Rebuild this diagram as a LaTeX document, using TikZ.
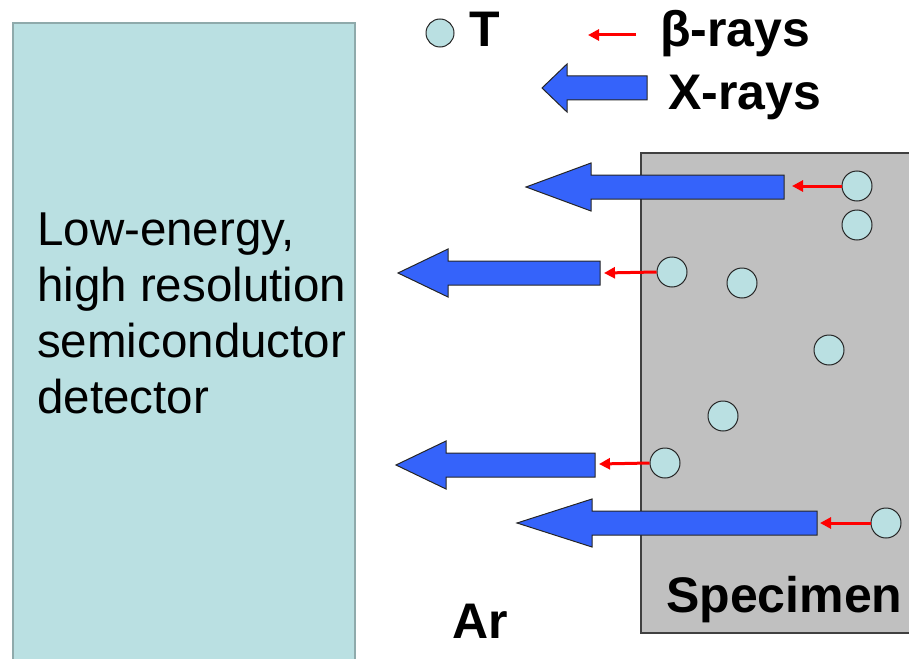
\documentclass[tikz,border=0pt]{standalone}
\usepackage{fontspec}
\setmainfont{Liberation Sans}
\usetikzlibrary{arrows.meta}
\definecolor{detfill}{HTML}{BAE0E2}
\definecolor{detline}{HTML}{8FAAAB}
\definecolor{specfill}{HTML}{C0C0C0}
\definecolor{specline}{HTML}{404040}
\definecolor{xblue}{HTML}{3563FA}
\definecolor{bred}{HTML}{FF0000}
\tikzset{
  atom/.style={circle,draw=black!85,line width=1pt,fill=detfill,minimum size=30pt,inner sep=0pt},
  beta/.style={draw=bred,line width=3pt,-{Triangle[length=11pt,width=11pt]}},
  xray/.style={draw=black!85,line width=1pt,fill=xblue,line join=miter},
  boldlabel/.style={font=\fontsize{50}{60}\selectfont\bfseries,inner sep=0pt,anchor=base west},
}
% tip x, y, head back x, body right x
\newcommand\xarr[4]{\path[xray] (#1,#2) -- (#3,#2-24) -- (#3,#2-12) -- (#4,#2-12) -- (#4,#2+12) -- (#3,#2+12) -- (#3,#2+24) -- cycle;}
\begin{document}
\begin{tikzpicture}[x=1pt,y=-1pt]
\useasboundingbox (0,0) rectangle (909,658);
\clip (0,0) rectangle (909,658);
% detector
\path[fill=detfill,draw=detline,line width=2pt] (13,23) rectangle (355,680);
\node[inner sep=0pt,anchor=base west,align=left,font=\fontsize{47.5}{56}\selectfont] (det) at (37,413)
  {Low-energy,\\high resolution\\semiconductor\\detector};
% specimen
\path[fill=specfill,draw=specline,line width=1.5pt] (641,153) rectangle (930,633);
\node[boldlabel] (spec) at (666,612) {Specimen};
\node[boldlabel] (ar) at (452,638) {Ar};
% legend
\node[atom,minimum size=28pt] (lt) at (440,33) {};
\node[boldlabel] (tlab) at (469,47) {T};
\coordinate (lbs) at (636,35);
\coordinate (lbe) at (588,35);
\draw[beta] (lbs) -- (lbe);
\node[boldlabel] (blab) at (660,47) {β-rays};
\xarr{542}{88}{567}{647}
\node[boldlabel] (xlab) at (668,110) {X-rays};
% atoms
\node[atom] (a1) at (857,186) {};
\node[atom] (a2) at (857,225) {};
\node[atom] (a3) at (672,272) {};
\node[atom] (a4) at (742,283) {};
\node[atom] (a5) at (829,350) {};
\node[atom] (a6) at (723,416) {};
\node[atom] (a7) at (665,463) {};
\node[atom] (a8) at (886,523) {};
% x-ray arrows
\xarr{526}{187}{591}{784}
\xarr{398}{273}{448}{600}
\xarr{396}{465}{446}{595}
\xarr{517}{523}{592}{817}
% beta arrows
\coordinate (e1) at (792,186);
\coordinate (e3) at (604,273);
\coordinate (e7) at (599,464);
\coordinate (e8) at (820,523);
\draw[beta] (a1.west) -- (e1);
\draw[beta] (a3.west) -- (e3);
\draw[beta] (a7.west) -- (e7);
\draw[beta] (a8.west) -- (e8);
\end{tikzpicture}
\end{document}
